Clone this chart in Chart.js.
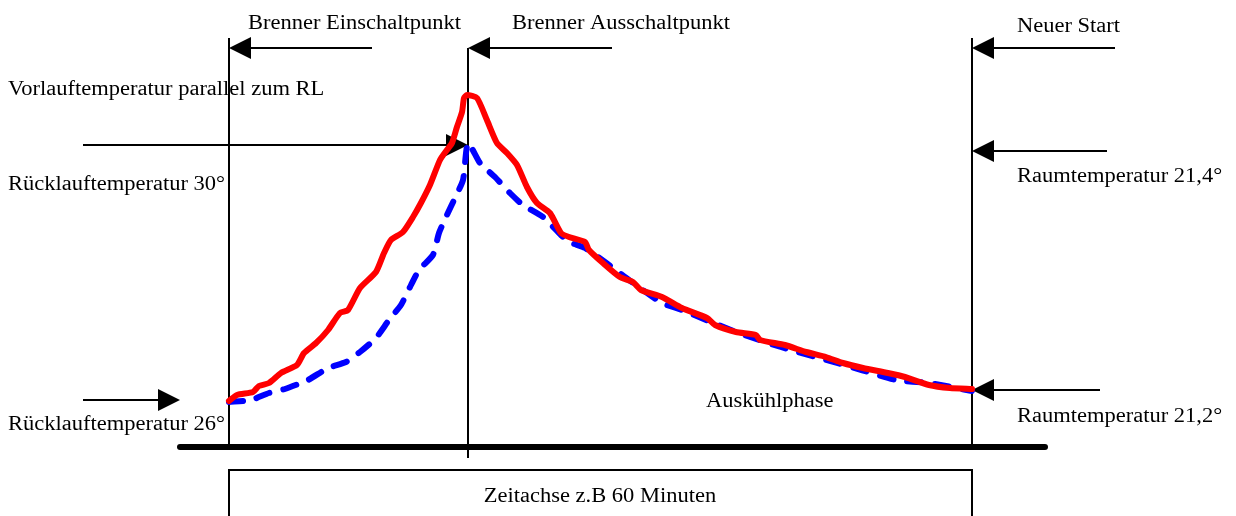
<!DOCTYPE html>
<html lang="de">
<head>
<meta charset="UTF-8" />
<title>Brenner Taktung</title>
<script src="https://cdn.jsdelivr.net/npm/chart.js"></script>
<style>
  html, body { margin: 0; padding: 0; background: #fff; }
  .chart-container { width: 1236px; height: 516px; position: relative; }
</style>
</head>
<body>

<div class="chart-container">
  <canvas id="cycleChart"></canvas>
</div>

<script>
// x = Zeit in Minuten (0 = Brenner ein, 60 = Neuer Start)
// y = relative Höhe über der Zeitachse
const vorlaufMinutes = [0, 0.65, 1.94, 2.42, 3.23, 4.20, 5.49, 6.06, 7.03, 8.00, 8.96, 9.61, 10.58, 11.87,
  12.52, 13.08, 14.05, 14.86, 15.50, 16.23, 17.04, 17.60, 18.01, 18.41, 18.82, 18.98, 19.22, 20.03, 20.83,
  21.64, 22.45, 23.26, 24.06, 24.87, 25.92, 26.81, 27.46, 28.75, 29.07, 30.20, 31.57, 32.62, 33.27, 34.97,
  36.58, 38.60, 39.25, 40.94, 42.56, 42.88, 44.90, 46.60, 48.21, 49.58, 51.20, 53.22, 54.59, 56.53, 58.22, 60.00];
const vorlaufValues = [46, 52, 55, 61, 64, 74, 82, 94, 104, 117, 134, 137, 159, 175,
  194, 207, 215, 230, 244, 262, 287, 297, 304, 320, 335, 349, 352, 349, 327,
  304, 294, 282, 260, 244, 234, 214, 210, 205, 197, 184, 170, 165, 157, 150,
  139, 129, 122, 115, 112, 107, 102, 95, 90, 84, 79, 74, 70, 62, 59, 58];

const ruecklaufMinutes = [0, 1.78, 3.23, 4.52, 6.38, 8.00, 9.45, 10.58, 11.87, 12.92, 13.89, 14.70, 15.34,
  16.47, 16.96, 17.60, 18.25, 18.90, 19.30, 20.27, 21.48, 22.69, 23.74, 25.36, 26.81, 27.46, 28.75, 30.36,
  32.30, 34.97, 36.58, 40.94, 44.57, 50.55, 53.86, 56.53, 60.00];
const ruecklaufValues = [45, 47, 54, 58, 67, 79, 85, 95, 109, 127, 142, 162, 177,
  192, 214, 232, 249, 267, 304, 284, 270, 254, 242, 230, 212, 205, 199, 185,
  167, 144, 137, 115, 100, 79, 67, 64, 56];

// Beschriftungen
const labelTexts = ['Brenner Einschaltpunkt', 'Brenner Ausschaltpunkt', 'Neuer Start',
  'Vorlauftemperatur parallel zum RL', 'Rücklauftemperatur 30°', 'Raumtemperatur 21,4°',
  'Auskühlphase', 'Rücklauftemperatur 26°', 'Raumtemperatur 21,2°'];
const axisTitle = 'Zeitachse z.B 60 Minuten';

const toPoints = (xs, ys) => xs.map((v, i) => ({ x: v, y: ys[i] }));

// annotation layout (data units)
const labelPos = [[1.53, 418], [22.85, 418], [63.63, 415], [-17.85, 352], [-17.85, 257],
  [63.63, 265], [38.52, 40], [-17.85, 17], [63.63, 25]];
const markers = [{ x: 0, top: 409, bottom: 0 }, { x: 19.30, top: 399, bottom: -11 }, { x: 60, top: 409, bottom: 0 }];
const arrows = [
  { from: 11.55, to: 0, y: 399 },
  { from: 30.93, to: 19.30, y: 399 },
  { from: 71.55, to: 60, y: 399 },
  { from: 70.90, to: 60, y: 296 },
  { from: 70.34, to: 60, y: 57 },
  { from: -11.79, to: 19.30, y: 302 },
  { from: -11.79, to: -3.96, y: 47 }
];

function drawText(ctx, text, x, y, align) {
  ctx.save();
  ctx.translate(x, y);
  ctx.scale(1.125, 1);
  ctx.textAlign = align || 'left';
  ctx.fillText(text, 0, 0);
  ctx.restore();
}

const schemaPlugin = {
  id: 'schema',
  beforeDatasetsDraw(chart) {
    const { ctx, scales: { x, y } } = chart;
    const px = v => Math.round(x.getPixelForValue(v));
    const py = v => Math.round(y.getPixelForValue(v));
    ctx.save();
    ctx.strokeStyle = '#000';
    ctx.fillStyle = '#000';

    // vertical lines
    ctx.lineWidth = 2;
    markers.forEach(m => {
      ctx.beginPath();
      ctx.moveTo(px(m.x), py(m.top));
      ctx.lineTo(px(m.x), py(m.bottom));
      ctx.stroke();
    });

    // box for the time axis
    ctx.beginPath();
    ctx.moveTo(px(0), py(-80));
    ctx.lineTo(px(0), py(-23));
    ctx.lineTo(px(60), py(-23));
    ctx.lineTo(px(60), py(-80));
    ctx.stroke();

    // arrows
    arrows.forEach(a => {
      const x0 = px(a.from), x1 = px(a.to), yy = py(a.y);
      const dir = x1 > x0 ? 1 : -1;
      ctx.lineWidth = 2;
      ctx.beginPath();
      ctx.moveTo(x0, yy);
      ctx.lineTo(x1 - dir * 18, yy);
      ctx.stroke();
      ctx.beginPath();
      ctx.moveTo(x1, yy);
      ctx.lineTo(x1 - dir * 22, yy - 11);
      ctx.lineTo(x1 - dir * 22, yy + 11);
      ctx.closePath();
      ctx.fill();
    });

    // thick time axis
    ctx.lineWidth = 6;
    ctx.lineCap = 'round';
    ctx.beginPath();
    ctx.moveTo(px(-3.96), py(0));
    ctx.lineTo(px(65.9), py(0));
    ctx.stroke();

    // texts
    ctx.font = '20px "Liberation Serif", "Times New Roman", serif';
    ctx.textBaseline = 'alphabetic';
    labelTexts.forEach((t, i) => drawText(ctx, t, px(labelPos[i][0]), py(labelPos[i][1])));
    drawText(ctx, axisTitle, px(30), py(-55), 'center');
    ctx.restore();
  }
};

new Chart(document.getElementById('cycleChart'), {
  type: 'line',
  data: {
    datasets: [{
      label: 'Vorlauftemperatur',
      data: toPoints(vorlaufMinutes, vorlaufValues),
      borderColor: '#ff0000',
      borderWidth: 6,
      borderCapStyle: 'round',
      borderJoinStyle: 'round',
      pointRadius: 0,
      tension: 0.2,
      order: 0
    }, {
      label: 'Rücklauftemperatur',
      data: toPoints(ruecklaufMinutes, ruecklaufValues),
      borderColor: '#0000ff',
      borderWidth: 6,
      borderDash: [14, 14],
      borderCapStyle: 'round',
      borderJoinStyle: 'round',
      pointRadius: 0,
      tension: 0.2,
      order: 1
    }]
  },
  options: {
    responsive: true,
    maintainAspectRatio: false,
    animation: false,
    layout: { padding: 0 },
    plugins: {
      legend: { display: false },
      tooltip: { enabled: false }
    },
    scales: {
      x: { type: 'linear', min: -18.49, max: 81.32, display: false },
      y: { type: 'linear', min: -69, max: 447, display: false }
    }
  },
  plugins: [schemaPlugin]
});
</script>

</body>
</html>
